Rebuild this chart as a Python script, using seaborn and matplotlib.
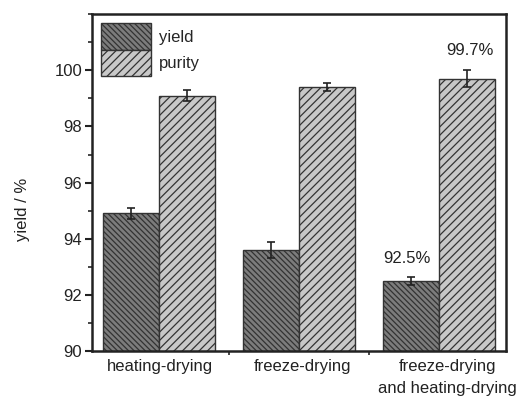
import matplotlib
matplotlib.use("Agg")
import matplotlib.pyplot as plt
import matplotlib.transforms as mtransforms
import seaborn as sns
import pandas as pd
from matplotlib.patches import Patch
from matplotlib.ticker import MultipleLocator, FixedLocator

categories = ["heating-drying", "freeze-drying", "freeze-drying\nand heating-drying"]
yield_vals = [94.9, 93.6, 92.5]
yield_err = [0.2, 0.3, 0.15]
purity_vals = [99.1, 99.4, 99.7]
purity_err = [0.2, 0.15, 0.3]
series = ["yield", "purity"]

df = pd.DataFrame({
    "method": categories * 2,
    "series": [series[0]] * 3 + [series[1]] * 3,
    "value": yield_vals + purity_vals,
})

sns.set_theme(style="white")
plt.rcParams["font.family"] = ["Liberation Sans", "DejaVu Sans"]
plt.rcParams["hatch.linewidth"] = 0.9

fig = plt.figure(figsize=(5.22, 4.04), dpi=100)
ax = fig.add_axes([0.176, 0.131, 0.793, 0.834])

fills = {"yield": "#7c7c7c", "purity": "#c8c8c8"}
hatches = {"yield": "\\\\\\\\\\\\", "purity": "////"}
edge = "#333333"

sns.barplot(data=df, x="method", y="value", hue="series", order=categories,
            hue_order=series, palette=fills, errorbar=None, width=0.8,
            edgecolor=edge, linewidth=1.0, ax=ax, legend=False, saturation=1)

errs = {"yield": yield_err, "purity": purity_err}
vals = {"yield": yield_vals, "purity": purity_vals}
for cont, s in zip(ax.containers, series):
    xs = []
    for bar in cont:
        bar.set_hatch(hatches[s])
        bar.set_edgecolor(edge)
        xs.append(bar.get_x() + bar.get_width() / 2)
    ax.errorbar(xs, vals[s], yerr=errs[s], fmt="none", ecolor="#222222",
                elinewidth=1.2, capsize=3, capthick=1.2, zorder=5)

ax.set_ylim(90, 102)
ax.set_xlim(-0.48, 2.48)
ax.yaxis.set_major_locator(FixedLocator([90, 92, 94, 96, 98, 100]))
ax.yaxis.set_minor_locator(MultipleLocator(1))
ax.xaxis.set_minor_locator(FixedLocator([0.5, 1.5]))
ax.tick_params(axis="y", which="major", direction="out", length=5, width=1.5,
               labelsize=12, left=True, colors="#222222", pad=2)
ax.tick_params(axis="y", which="minor", direction="out", length=3, width=1.2, left=True)
ax.tick_params(axis="x", which="major", length=0, labelsize=12, pad=6, colors="#222222")
ax.tick_params(axis="x", which="minor", direction="out", length=3, width=1.2, bottom=True)

shifts = [1, 4, 9]
for lab, dx in zip(ax.get_xticklabels(), shifts):
    lab.set_linespacing(1.55)
    lab.set_transform(lab.get_transform() +
                      mtransforms.ScaledTranslation(dx / 100, 0, fig.dpi_scale_trans))

for sp in ax.spines.values():
    sp.set_visible(True)
    sp.set_color("#222222")
    sp.set_linewidth(1.8)

ax.set_xlabel("")
ax.set_ylabel("yield / %", fontsize=12, color="#222222")
ax.yaxis.set_label_coords(-0.15, 0.42)

ax.text(2.22, 100.55, "99.7%", ha="center", va="baseline", fontsize=12, color="#222222")
ax.text(1.77, 93.15, "92.5%", ha="center", va="baseline", fontsize=12, color="#222222")

handles = [Patch(facecolor=fills[s], edgecolor=edge, hatch=hatches[s], label=s) for s in series]
ax.legend(handles=handles, loc="upper left", frameon=False, fontsize=12,
          handlelength=3.0, handleheight=2.07, labelspacing=0.0,
          handletextpad=0.5, borderpad=0.2, borderaxespad=0.35)

fig.savefig("out.png", dpi=100)
